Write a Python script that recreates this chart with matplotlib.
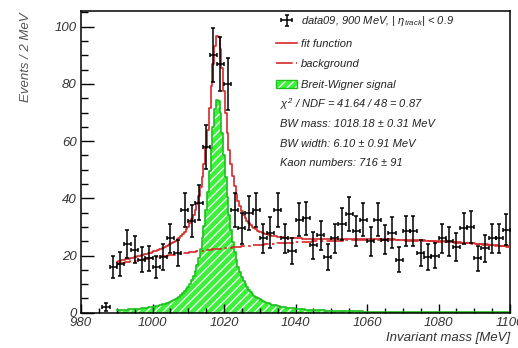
import numpy as np
import matplotlib
matplotlib.use('Agg')
import matplotlib.pyplot as plt
from matplotlib.lines import Line2D
from matplotlib.patches import Patch
from matplotlib.ticker import MultipleLocator

# ---- data ----
bin_centers = list(range(987, 1100, 2))
counts = [2, 16, 17, 24, 22, 18.5, 19, 16, 19.5, 26,
          21, 36, 32, 38.5, 58, 90, 87, 80, 36, 29.5,
          35, 36, 26, 28, 36, 26, 21.5, 32.5, 33, 23.5,
          27, 19.5, 26, 31, 34.5, 28.5, 32.5, 25, 32.5, 25.5,
          28, 18.5, 28.5, 28.5, 21, 19.5, 20, 26, 25, 23,
          29.5, 30, 19, 22.5, 26, 26, 29]
bin_halfwidth = 1.0

# fit parameters
bw_mass = 1018.18
bw_width = 6.10
kaon_number = 716
bkg_coeffs = [17.0, 0.2332, -0.001624]   # polynomial in (m - 990)
fit_lo, fit_hi = 990, 1100

legend_labels = ["data09, 900 MeV, | $\\eta_{\\mathregular{track}}$| < 0.9",
                 "fit function", "background", "Breit-Wigner signal"]
stats_lines = ["$\\chi^{2}$ / NDF = 41.64 / 48 = 0.87",
               "BW mass: 1018.18 \u00b1 0.31 MeV",
               "BW width: 6.10 \u00b1 0.91 MeV",
               "Kaon numbers: 716 \u00b1 91"]

plt.rcParams['font.family'] = ['Liberation Sans', 'DejaVu Sans']
plt.rcParams['font.style'] = 'italic'
plt.rcParams['mathtext.fontset'] = 'custom'
plt.rcParams['mathtext.it'] = 'Liberation Sans:italic'
plt.rcParams['mathtext.rm'] = 'Liberation Sans:italic'
plt.rcParams['hatch.linewidth'] = 0.9

RED = '#d42a2a'
GREEN = '#3cf03c'
DKGREEN = '#1fbf1f'
TXT = '#333333'

W, H = 518, 348
fig = plt.figure(figsize=(W / 100, H / 100), dpi=100)
ax = fig.add_axes([81 / W, 1 - 312.7 / H, 429 / W, 301.7 / H])

counts_arr = np.array(counts, dtype=float)
x = np.array(bin_centers, dtype=float)

m = np.linspace(fit_lo, fit_hi, 221)
gam = bw_width / 2.0
signal = kaon_number / np.pi * gam / ((m - bw_mass) ** 2 + gam ** 2)
t = m - fit_lo
background = bkg_coeffs[0] + bkg_coeffs[1] * t + bkg_coeffs[2] * t ** 2
total = signal + background

# signal fill
ax.fill_between(m, 0, signal, step='mid', facecolor=GREEN, edgecolor='white',
                hatch='////', linewidth=0, zorder=1)
ax.plot(m, signal, drawstyle='steps-mid', color=DKGREEN, lw=1.2, zorder=2)

# background and fit
ax.plot(m, background, drawstyle='steps-mid', color=RED, lw=1.2,
        linestyle=(0, (10, 2, 1.5, 2)), zorder=3)
ax.plot(m, total, drawstyle='steps-mid', color=RED, lw=1.2, zorder=3)

# data
eb = ax.errorbar(x, counts_arr, yerr=np.sqrt(counts_arr), xerr=bin_halfwidth,
                 fmt='none', ecolor='black', elinewidth=1.1, capsize=1.6,
                 capthick=1.1, zorder=4)

ax.set_xlim(980, 1100)
ax.set_ylim(0, 105.5)
ax.xaxis.set_major_locator(MultipleLocator(20))
ax.xaxis.set_minor_locator(MultipleLocator(5))
ax.yaxis.set_major_locator(MultipleLocator(20))
ax.yaxis.set_minor_locator(MultipleLocator(5))
ax.tick_params(axis='both', which='both', direction='in', top=False, right=False,
               labelsize=9.5, labelcolor=TXT, width=1.0)
ax.tick_params(axis='y', which='major', length=9, pad=3)
ax.tick_params(axis='y', which='minor', length=5)
ax.tick_params(axis='x', which='major', length=6.5, pad=3)
ax.tick_params(axis='x', which='minor', length=3.5)
for s in ax.spines.values():
    s.set_linewidth(1.1)

fig.text(26 / W, 1 - 12 / H, "Events / 2 MeV", rotation=90, ha='center', va='top',
         fontsize=9.5, color='#555555')
fig.text(510 / W, 1 - 338 / H, "Invariant mass [MeV]", ha='right', va='center',
         fontsize=9.5, color=TXT)

h_fit = Line2D([], [], color=RED, lw=1.2)
h_bkg = Line2D([], [], color=RED, lw=1.2, linestyle=(0, (10, 2, 1.5, 2)))
h_sig = (Patch(facecolor=GREEN, edgecolor='white', hatch='////', lw=0),
         Patch(facecolor='none', edgecolor=DKGREEN, lw=1.0))
leg = ax.legend([eb, h_fit, h_bkg, h_sig], legend_labels, loc='upper left',
                bbox_to_anchor=(0.455, 0.99), frameon=False, fontsize=8,
                borderpad=0, borderaxespad=0, handlelength=1.9,
                handletextpad=0.3, labelspacing=0.95)
for tx in leg.get_texts():
    tx.set_color('#222222')

ys = [0.690, 0.625, 0.560, 0.495]
for line, yy in zip(stats_lines, ys):
    ax.text(0.464, yy, line, transform=ax.transAxes, ha='left', va='center',
            fontsize=8, color='#222222')

fig.savefig('out.png', dpi=100)
